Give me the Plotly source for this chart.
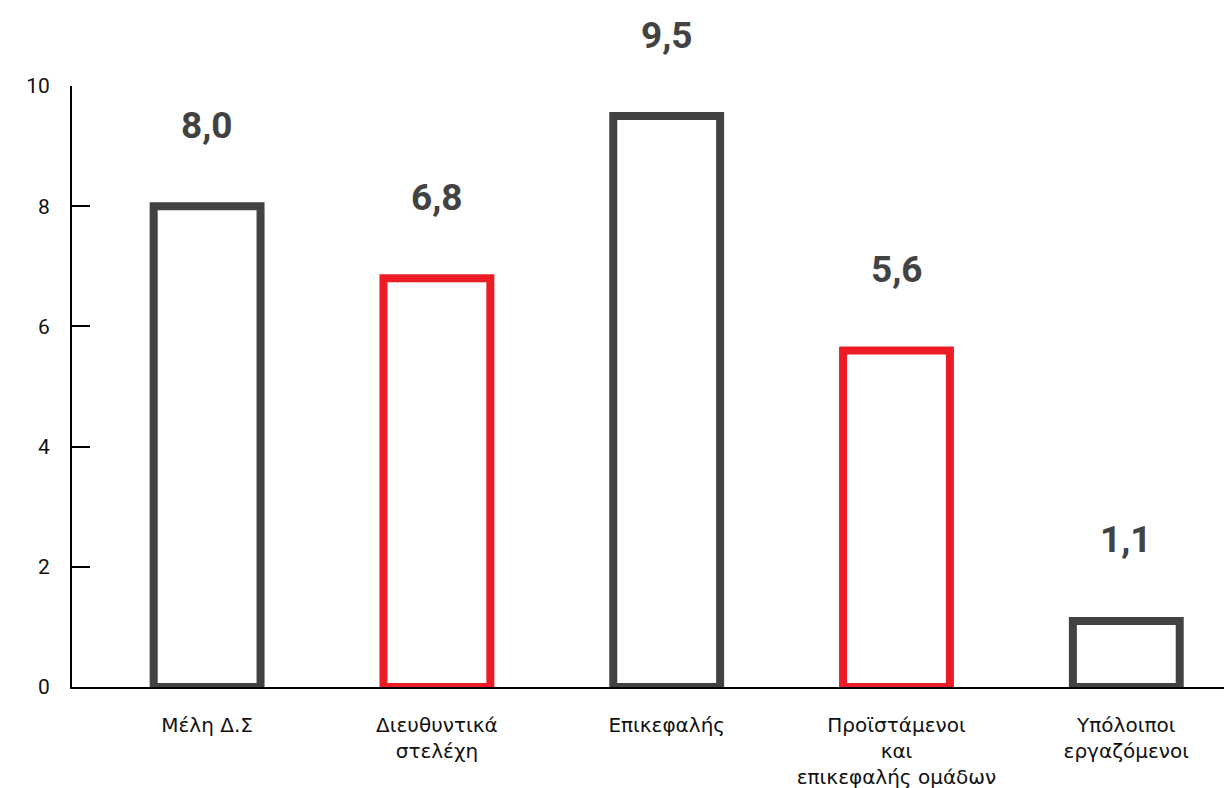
import plotly.graph_objects as go

categories = ["Μέλη Δ.Σ", "Διευθυντικά<br>στελέχη", "Επικεφαλής",
              "Προϊστάμενοι<br>και<br>επικεφαλής ομάδων", "Υπόλοιποι<br>εργαζόμενοι"]
values = [8.0, 6.8, 9.5, 5.6, 1.1]
value_labels = ["8,0", "6,8", "9,5", "5,6", "1,1"]
outline_colors = ["#424242", "#ED1C24", "#424242", "#ED1C24", "#424242"]
y_ticks = [0, 2, 4, 6, 8, 10]

fig = go.Figure()
fig.add_trace(go.Bar(
    x=list(range(len(categories))),
    y=values,
    width=0.465,
    marker=dict(color="rgba(0,0,0,0)", line=dict(color=outline_colors, width=8)),
    cliponaxis=False,
    hoverinfo="skip",
))

for i, (v, t) in enumerate(zip(values, value_labels)):
    fig.add_annotation(x=i, y=v, text=t, showarrow=False, yshift=81,
                       font=dict(family="Roboto", size=37, color="#424242", weight="bold"),
                       yanchor="middle")

fig.update_layout(
    width=1224, height=780,
    margin=dict(l=64, r=0, t=78, b=101),
    paper_bgcolor="white", plot_bgcolor="white",
    showlegend=False,
    font=dict(family="Roboto", color="#111111"),
    xaxis=dict(
        range=[-0.588, 4.46],
        tickmode="array", tickvals=list(range(len(categories))), ticktext=categories,
        showline=True, linecolor="black", linewidth=2,
        showgrid=False, zeroline=False, ticks="",
        tickfont=dict(family="DejaVu Sans", size=20, color="#111111"),
        ticklabelstandoff=19,
    ),
    yaxis=dict(
        range=[0, 10],
        tickmode="array", tickvals=y_ticks,
        showline=True, linecolor="black", linewidth=2,
        showgrid=False, zeroline=False,
        ticks="inside", ticklen=18, tickwidth=2, tickcolor="black",
        tickfont=dict(family="Roboto", size=21, color="#111111"),
        ticklabelstandoff=16,
    ),
)

fig.write_html("out.html")
